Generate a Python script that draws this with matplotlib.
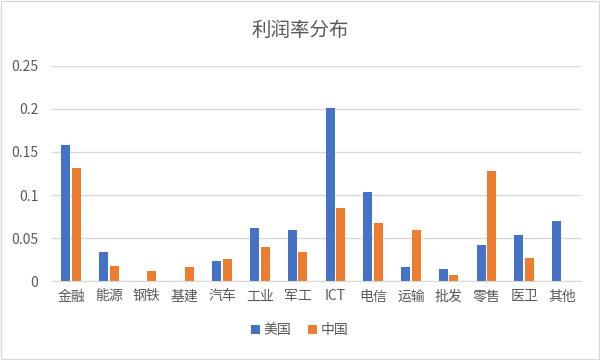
import matplotlib
matplotlib.use('Agg')
import matplotlib.pyplot as plt
import numpy as np
from matplotlib.patches import Rectangle

plt.rcParams['font.family'] = ['Noto Sans CJK SC', 'DejaVu Sans']

# 行业分类
categorias = ['金融', '能源', '钢铁', '基建', '汽车', '工业', '军工', 'ICT',
              '电信', '运输', '批发', '零售', '医卫', '其他']
# 利润率
valores_eua = [0.158, 0.034, 0, 0, 0.023, 0.062, 0.059, 0.201,
               0.103, 0.017, 0.014, 0.042, 0.054, 0.070]
valores_china = [0.131, 0.018, 0.012, 0.016, 0.026, 0.040, 0.034, 0.085,
                 0.067, 0.059, 0.007, 0.128, 0.027, 0]
yticks = [0, 0.05, 0.1, 0.15, 0.2, 0.25]
ytick_labels = ['0', '0.05', '0.1', '0.15', '0.2', '0.25']

azul = '#4472C4'
laranja = '#ED7D31'
cinza = '#595959'

fig = plt.figure(figsize=(6, 3.6), dpi=100)
fig.patches.append(Rectangle((0.002, 0.003), 0.996, 0.994, transform=fig.transFigure,
                             fill=False, edgecolor='#D9D9D9', linewidth=1))
ax = fig.add_axes([0.087, 0.219, 0.881, 0.598])

x = np.arange(len(categorias))
largura = 0.24
ax.bar(x - 0.14, valores_eua, largura, color=azul, label='美国')
ax.bar(x + 0.14, valores_china, largura, color=laranja, label='中国')

ax.set_xlim(-0.5, len(categorias) - 0.5)
ax.set_ylim(0, 0.25)
ax.set_yticks(yticks)
ax.set_yticklabels(ytick_labels)
ax.set_xticks(x)
ax.set_xticklabels(categorias)
ax.tick_params(axis='both', length=0, colors=cinza, labelsize=10)
ax.tick_params(axis='x', pad=6)
ax.tick_params(axis='y', pad=10)
ax.grid(axis='y', color='#D9D9D9', linewidth=1)
ax.set_axisbelow(True)
for lado in ['top', 'right', 'left']:
    ax.spines[lado].set_visible(False)
ax.spines['bottom'].set_color('#D9D9D9')

fig.text(0.5, 0.915, '利润率分布', ha='center', va='center', fontsize=14, color=cinza)

fig.legend(loc='center', bbox_to_anchor=(0.5, 0.083), ncol=2, frameon=False,
           fontsize=10, handlelength=0.6, handleheight=0.6, handletextpad=0.3,
           columnspacing=1.2, labelcolor=cinza)

plt.savefig('out.png', dpi=100)
plt.close()
